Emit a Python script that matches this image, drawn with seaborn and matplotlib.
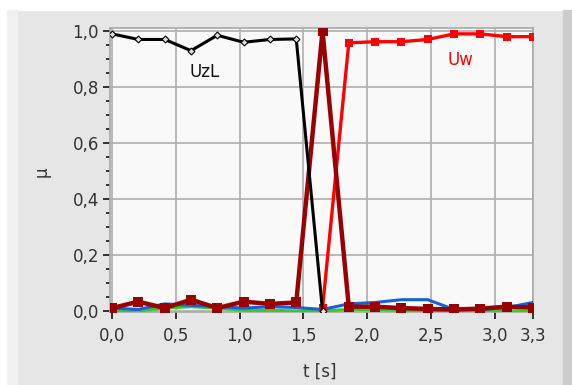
import matplotlib
matplotlib.use("Agg")
import matplotlib.pyplot as plt
from matplotlib.patches import Rectangle
from matplotlib.ticker import FixedLocator, MultipleLocator, FuncFormatter
import seaborn as sns
import pandas as pd

# ---- data ----
t = [0.0, 0.206, 0.413, 0.619, 0.825, 1.031, 1.238, 1.444, 1.65,
     1.856, 2.063, 2.269, 2.475, 2.681, 2.888, 3.094, 3.3]
uzl_t = t[:9]
uzl = [0.99, 0.97, 0.97, 0.93, 0.985, 0.96, 0.97, 0.972, 0.0]
uw_t = t[8:]
uw = [0.01, 0.958, 0.962, 0.962, 0.97, 0.99, 0.99, 0.98, 0.98]
uz = [0.01, 0.033, 0.01, 0.04, 0.01, 0.033, 0.025, 0.03, 1.0,
      0.015, 0.015, 0.01, 0.007, 0.005, 0.008, 0.015, 0.012]
blue = [0.01, 0.005, 0.025, 0.02, 0.015, 0.01, 0.015, 0.012, 0.005,
        0.025, 0.03, 0.04, 0.04, 0.005, 0.005, 0.012, 0.03]
green = [0.0, 0.0, 0.01, 0.015, 0.01, 0.002, 0.002, 0.0, 0.0,
         0.005, 0.005, 0.002, 0.0, 0.0, 0.0, 0.0, 0.0]
x_ticks = [0.0, 0.5, 1.0, 1.5, 2.0, 2.5, 3.0, 3.3]
y_ticks = [0.0, 0.2, 0.4, 0.6, 0.8, 1.0]

sns.set_style("white")
plt.rcParams['font.family'] = ['DejaVu Sans']

fig = plt.figure(figsize=(5.72, 3.85), dpi=100, facecolor="#e6e6e6")
# panel decoration
fig.patches.append(Rectangle((0, 1 - 10/385), 1, 10/385, transform=fig.transFigure,
                             color="white", zorder=0))
fig.patches.append(Rectangle((0, 0), 7/572, 1, transform=fig.transFigure,
                             color="white", zorder=0))
fig.patches.append(Rectangle((7/572, 0), 10/572, 1 - 10/385, transform=fig.transFigure,
                             color="#f0f0f0", zorder=0))
fig.patches.append(Rectangle((563/572, 0), 9/572, 1 - 10/385, transform=fig.transFigure,
                             color="#cccccc", zorder=0))

ax = fig.add_axes([110/572, 73/385, 423/572, 284/385])
ax.set_facecolor("#f9f9f9")

sns.lineplot(x=t, y=green, ax=ax, color="#33cc22", linewidth=2.2, zorder=3)
sns.lineplot(x=t, y=blue, ax=ax, color="#1560e0", linewidth=2.2, zorder=4)
sns.lineplot(x=uw_t, y=uw, ax=ax, color="#ff0000", linewidth=2.4, marker="s",
             markersize=6, markeredgewidth=0, zorder=5)
sns.lineplot(x=t, y=uz, ax=ax, color="#990000", linewidth=3.2, marker="s",
             markersize=6.5, markeredgewidth=0, zorder=6)
sns.lineplot(x=uzl_t, y=uzl, ax=ax, color="#000000", linewidth=2.2, marker="D",
             markersize=3.5, markerfacecolor="#dddddd", markeredgecolor="black",
             markeredgewidth=0.8, zorder=7)

ax.set_xlim(-0.016, 3.3)
ax.set_ylim(-0.004, 1.011)

ax.xaxis.set_major_locator(FixedLocator(x_ticks))
ax.yaxis.set_major_locator(FixedLocator(y_ticks))
ax.yaxis.set_minor_locator(MultipleLocator(0.05))
fmt = FuncFormatter(lambda v, p: f"{v:.1f}".replace(".", ","))
ax.xaxis.set_major_formatter(fmt)
ax.yaxis.set_major_formatter(fmt)

ax.grid(True, which="major", color="#b4b4b4", linewidth=1.3)
ax.set_axisbelow(True)
for s in ax.spines.values():
    s.set_color("#a8a8a8")
    s.set_linewidth(1.2)

ax.tick_params(axis="both", which="major", direction="out", length=5, width=1.3,
               color="#222222", labelsize=12, labelcolor="#333333", pad=3,
               left=True, bottom=True)
ax.tick_params(axis="y", which="minor", direction="out", length=3, width=1.3,
               color="#222222", left=True)
ax.tick_params(axis="x", pad=6)

ax.set_xlabel("")
ax.set_ylabel("")
fig.text(42/572, 1 - 172/385, "μ", rotation=90, ha="center", va="center",
         fontsize=12, color="#333333")
fig.text(320/572, 1 - 372/385, "t [s]", ha="center", va="center",
         fontsize=12, color="#333333")

ax.text(0.727, 0.854, "UzL", ha="center", va="center", fontsize=12, color="#111111")
ax.text(2.73, 0.896, "Uw", ha="center", va="center", fontsize=12, color="#ff0000")

fig.savefig("out.png", dpi=100, facecolor=fig.get_facecolor())
